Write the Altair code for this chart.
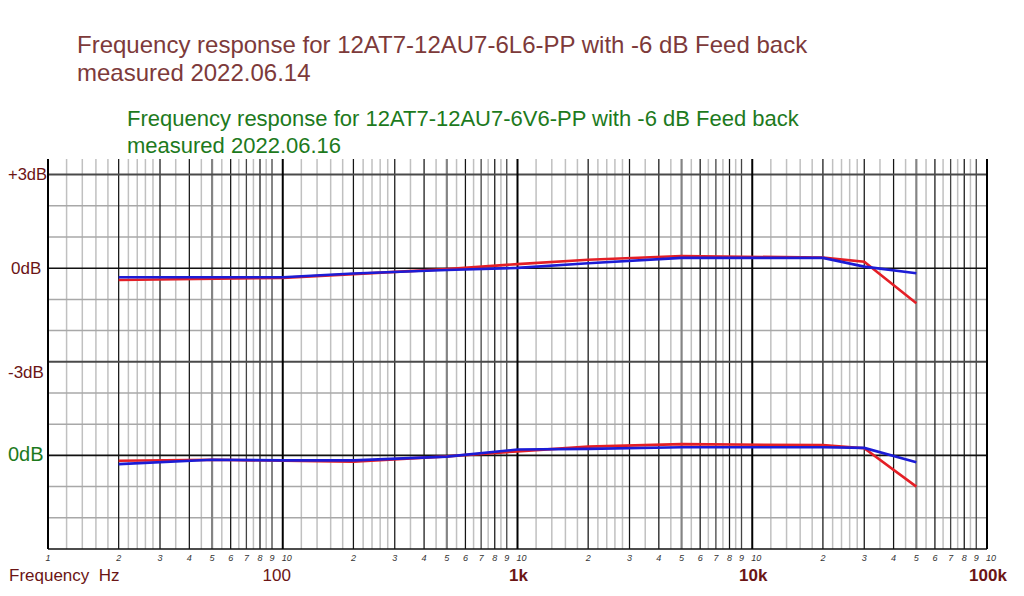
import altair as alt
import pandas as pd

# ---------------- data ----------------
upper_red_freq = [20, 100, 200, 500, 1000, 2000, 5000, 20000, 30000, 50000]
upper_red_db = [-0.38, -0.31, -0.19, -0.03, 0.13, 0.27, 0.39, 0.34, 0.21, -1.12]
upper_blue_freq = [20, 100, 200, 500, 1000, 2000, 5000, 20000, 30000, 50000]
upper_blue_db = [-0.29, -0.29, -0.17, -0.06, 0.01, 0.16, 0.33, 0.33, 0.05, -0.16]

lower_red_freq = [20, 50, 100, 200, 500, 1000, 2000, 5000, 20000, 30000, 50000]
lower_red_db = [-0.17, -0.14, -0.17, -0.20, -0.03, 0.13, 0.28, 0.36, 0.33, 0.23, -1.00]
lower_blue_freq = [20, 50, 100, 200, 500, 1000, 2000, 5000, 20000, 30000, 50000]
lower_blue_db = [-0.28, -0.14, -0.16, -0.16, -0.04, 0.19, 0.21, 0.26, 0.26, 0.24, -0.22]
LOWER_OFFSET = -6  # lower pair of curves is drawn around the second "0dB" line

y_label_values = [3, 0, -3, -6]
y_label_texts = ["+3dB", "0dB", "-3dB", "0dB"]

decade_labels = ["100", "1k", "10k", "100k"]
decade_freqs = [100, 1000, 10000, 100000]

title1 = ["Frequency response for 12AT7-12AU7-6L6-PP with -6 dB Feed back",
          "measured 2022.06.14"]
title2 = ["Frequency response for 12AT7-12AU7-6V6-PP with -6 dB Feed back",
          "measured 2022.06.16"]

# ---------------- styling ----------------
W, H = 939, 390
RED = "#e41f26"
BLUE = "#1c1cd6"
BROWN_TITLE = "#7d3a3a"
DARK_RED = "#6b1515"
GREEN = "#1d7a1d"

xs = alt.Scale(type="log", domain=[10, 100000], nice=False)
ys = alt.Scale(domain=[-9, 3.5], nice=False, zero=False)

# grid positions
decades = [10, 100, 1000, 10000]
v_decade = decades + [100000]
v_main = [m * d for d in decades for m in [2, 3, 4, 6, 8]]
v_mid = [m * d for d in decades for m in [7, 9]]
v_five = [5 * d for d in decades]
v_light = [m * d for d in decades for m in
           [1.2, 1.4, 1.6, 1.8, 2.2, 2.4, 2.6, 2.8, 3.5, 4.5, 5.5, 6.5, 7.5, 8.5]]

h_black = [0, -6, -9]
h_dark = [3, -3]
h_light = [2, 1, -1, -2, -4, -5, -7, -8]


def vrules(vals, color, width):
    return alt.Chart(pd.DataFrame({"f": vals})).mark_rule(
        color=color, strokeWidth=width).encode(
        x=alt.X("f:Q", scale=xs, axis=None))


def hrules(vals, color, width):
    return alt.Chart(pd.DataFrame({"v": vals})).mark_rule(
        color=color, strokeWidth=width).encode(
        y=alt.Y("v:Q", scale=ys, axis=None))


grid = [
    vrules(v_light, "#c0c0c0", 1.5),
    hrules(h_light, "#a8a8a8", 1.5),
    vrules(v_five, "#848484", 2.2),
    vrules(v_mid, "#444444", 1.3),
    vrules(v_main, "#151515", 1.25),
    hrules(h_dark, "#4a4a4a", 2),
    hrules(h_black, "#111111", 1.6),
    vrules(v_decade, "#000000", 2),
]

# curves
rows = []
for name, fr, db, off in [
    ("upper_red", upper_red_freq, upper_red_db, 0),
    ("upper_blue", upper_blue_freq, upper_blue_db, 0),
    ("lower_red", lower_red_freq, lower_red_db, LOWER_OFFSET),
    ("lower_blue", lower_blue_freq, lower_blue_db, LOWER_OFFSET),
]:
    for f, d in zip(fr, db):
        rows.append({"series": name, "freq": f, "db": d + off})
curves = pd.DataFrame(rows)


def curve(name, color):
    return alt.Chart(curves[curves.series == name]).mark_line(
        color=color, strokeWidth=2.6).encode(
        x=alt.X("freq:Q", scale=xs, axis=None),
        y=alt.Y("db:Q", scale=ys, axis=None),
        order="freq:Q")


lines = [curve("upper_red", RED), curve("lower_red", RED),
         curve("upper_blue", BLUE), curve("lower_blue", BLUE)]

# small italic multiplier labels under the x axis
tick_rows = [{"f": 10, "t": "1"}]
for d in decades:
    for m in range(2, 10):
        tick_rows.append({"f": m * d, "t": str(m)})
tick_df = pd.DataFrame(tick_rows)
ten_df = pd.DataFrame({"f": v_decade[1:], "t": ["10"] * 4})
ticks = alt.Chart(tick_df).mark_text(
    fontSize=9, fontStyle="italic", color="#333333", align="center",
    baseline="middle", font="Liberation Sans").encode(
    x=alt.X("f:Q", scale=xs, axis=None), y=alt.value(H + 9), text="t:N")
tens = alt.Chart(ten_df).mark_text(
    fontSize=9, fontStyle="italic", color="#333333", align="left",
    baseline="middle", font="Liberation Sans", dx=-1).encode(
    x=alt.X("f:Q", scale=xs, axis=None), y=alt.value(H + 9), text="t:N")

# decade labels
dec_layers = []
for lab, f in zip(decade_labels, decade_freqs):
    dec_layers.append(alt.Chart(pd.DataFrame({"f": [f], "t": [lab]})).mark_text(
        fontSize=17, fontWeight="normal" if lab == "100" else "bold",
        color=DARK_RED, align="center", baseline="middle",
        font="Liberation Sans", dx=-6 if lab == "100" else 1).encode(
        x=alt.X("f:Q", scale=xs, axis=None), y=alt.value(H + 27), text="t:N"))

freq_label = alt.Chart(pd.DataFrame({"t": ["Frequency\u00a0\u00a0Hz"]})).mark_text(
    fontSize=17, color=DARK_RED, align="left", baseline="middle",
    font="Liberation Sans").encode(
    x=alt.value(-39), y=alt.value(H + 27), text="t:N")

# y labels
ylab_layers = []
ylab_style = [(-40, DARK_RED, 16.5, 0), (-37, DARK_RED, 17, 1),
              (-40, DARK_RED, 17, 11), (-40, GREEN, 20, 0)]
for v, t, (px, col, fs, dy) in zip(y_label_values, y_label_texts, ylab_style):
    ylab_layers.append(alt.Chart(pd.DataFrame({"v": [v], "t": [t]})).mark_text(
        fontSize=fs, color=col, align="left", baseline="middle",
        font="Liberation Sans", dy=dy).encode(
        x=alt.value(px), y=alt.Y("v:Q", scale=ys, axis=None), text="t:N"))

# titles
title_layers = []
for i, t in enumerate(title1):
    title_layers.append(alt.Chart(pd.DataFrame({"t": [t]})).mark_text(
        fontSize=24, color=BROWN_TITLE, align="left", baseline="alphabetic",
        font="Liberation Sans").encode(
        x=alt.value(29), y=alt.value(-106 + 28 * i), text="t:N"))
for i, t in enumerate(title2):
    title_layers.append(alt.Chart(pd.DataFrame({"t": [t]})).mark_text(
        fontSize=22, color=GREEN, align="left", baseline="alphabetic",
        font="Liberation Sans").encode(
        x=alt.value(79), y=alt.value(-33 + 27 * i), text="t:N"))

chart = alt.layer(*grid, *lines, ticks, tens, *dec_layers, freq_label,
                  *ylab_layers, *title_layers).properties(
    width=W, height=H,
    autosize=alt.AutoSizeParams(type="none"),
    padding={"left": 40, "top": 151, "right": 29, "bottom": 37},
).configure_view(stroke=None)

chart.save("out.html", embed_options={"renderer": "svg", "actions": False})
